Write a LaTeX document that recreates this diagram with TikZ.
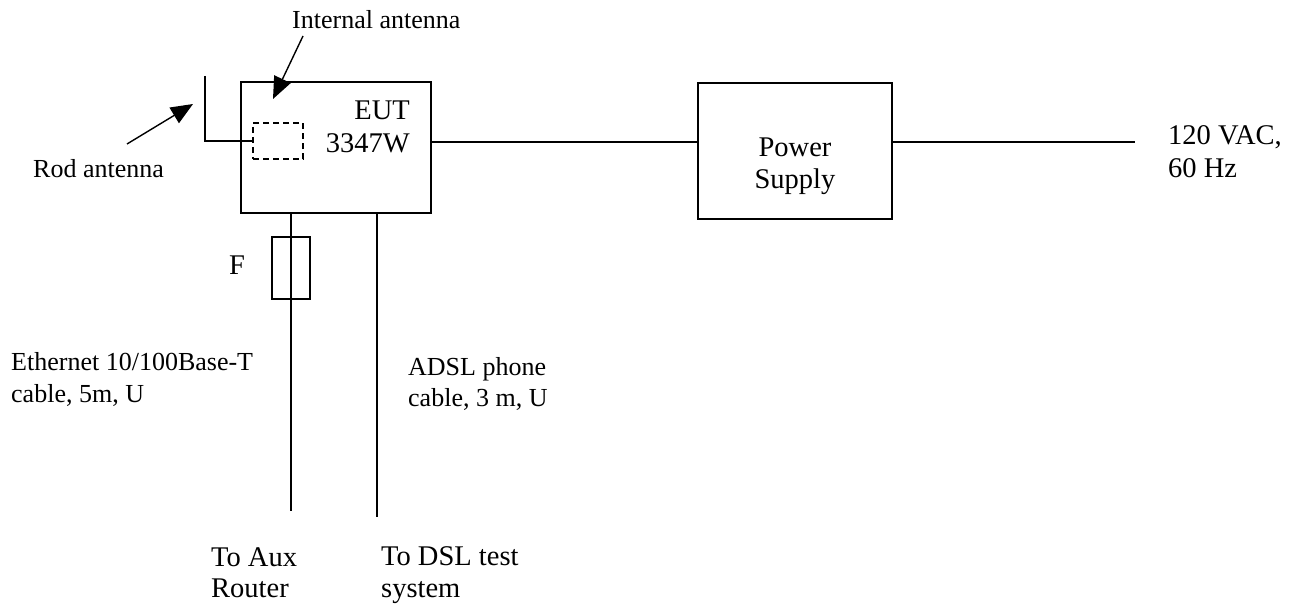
\documentclass[tikz,border=0pt]{standalone}
\usepackage{fontspec}
\setmainfont{Liberation Serif}
\usetikzlibrary{arrows.meta}
\begin{document}
\begin{tikzpicture}[x=1pt,y=-1pt,
  lbl/.style={inner sep=0pt, anchor=base west, font=\fontsize{26}{31}\selectfont},
  big/.style={font=\fontsize{28.5}{33}\selectfont},
  lblr/.style={lbl, anchor=base east},
  lblc/.style={lbl, anchor=base},
  boxst/.style={draw, line width=2pt, inner sep=0pt, outer sep=0pt},
  dashbox/.style={draw, dash pattern=on 6pt off 4pt, line width=1.4pt, inner sep=0pt, outer sep=0pt},
  fusebox/.style={draw, line width=1.5pt, inner sep=0pt, outer sep=0pt},
  wire/.style={line width=1.6pt},
  wirethick/.style={line width=2pt},
  rod/.style={line width=2.8pt},
  pointer/.style={line width=1.4pt, -{Triangle[length=22pt,width=18pt]}}]
\useasboundingbox (0,0) rectangle (1298,607);

% boxes
\node[boxst, minimum width=190pt, minimum height=131pt] (eut) at (336,147.5) {};
\node[boxst, minimum width=194pt, minimum height=136pt] (ps) at (795,151) {};
\node[dashbox, minimum width=50pt, minimum height=36pt] (intant) at (278,141) {};
\node[fusebox, minimum width=38pt, minimum height=62pt] (fuse) at (291,268) {};

% texts
\node[lblr, big] (eutA) at (410,120) {EUT};
\node[lblr, big] (eutB) at (410,153) {3347W};
\node[lblc, big] (psA) at (795,157) {Power};
\node[lblc, big] (psB) at (795,188) {Supply};
\node[lbl] (intlbl) at (292,29) {Internal antenna};
\node[lbl] (rodlbl) at (33,177) {Rod antenna};
\node[lbl, big] (mainsA) at (1168,145) {120 VAC,};
\node[lbl, big] (mainsB) at (1168,177) {60 Hz};
\node[lbl, big] (flbl) at (229,274) {F};
\node[lbl] (ethA) at (11,370) {Ethernet 10/100Base-T};
\node[lbl] (ethB) at (11,402) {cable, 5m, U};
\node[lbl] (adslA) at (408,375) {ADSL phone};
\node[lbl] (adslB) at (408,406) {cable, 3 m, U};
\node[lbl, big] (auxA) at (211,566) {To Aux};
\node[lbl, big] (auxB) at (211,597) {Router};
\node[lbl, big] (dslA) at (381,565) {To DSL test};
\node[lbl, big] (dslB) at (381,597) {system};

% coordinates
\coordinate (pline) at (0,142);
\coordinate (mainsend) at (1135,142);
\coordinate (ethbot) at (291,511);
\coordinate (adslbot) at (377,517);
\coordinate (rodtop) at (205,76);
\coordinate (rodknee) at (205,141);
\coordinate (rodarrowstart) at (127,144);
\coordinate (rodarrowtip) at (193,104);
\coordinate (intarrowstart) at (303,36);
\coordinate (intarrowtip) at (273,99);

% connectors
\draw[wire] (eut.east |- pline) -- (ps.west |- pline);
\draw[wire] (ps.east |- pline) -- (mainsend);
\draw[wire] (eut.south -| fuse) -- (ethbot);
\draw[wirethick] (eut.south -| adslbot) -- (adslbot);
\draw[rod] (rodtop) -- (rodknee);
\draw[wire] ([xshift=-1pt]rodknee) -- (intant.west);
\draw[pointer] (rodarrowstart) -- (rodarrowtip);
\draw[pointer] (intarrowstart) -- (intarrowtip);
\end{tikzpicture}
\end{document}
